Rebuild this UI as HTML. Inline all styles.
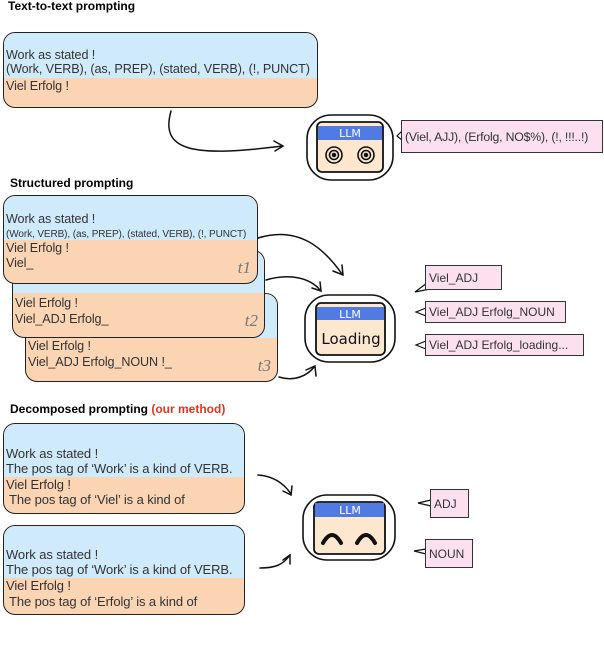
<!DOCTYPE html>
<html><head><meta charset="utf-8"><style>
body{margin:0;width:604px;height:650px;background:#fff;position:relative;overflow:hidden;font-family:"Liberation Sans",Arial,sans-serif;}
.t{position:absolute;font-weight:bold;font-size:12px;color:#000;white-space:nowrap}
.box{position:absolute;border:1.5px solid #222;border-radius:12px;overflow:hidden;background:#fbd4b4;}
.blue{position:absolute;left:0;right:0;top:0;background:#cfeafb;}
.l{position:absolute;left:2px;font-size:12.6px;color:#333;white-space:nowrap;letter-spacing:-0.1px}
.s{font-size:10px}
.d{font-size:13px}
.tl{position:absolute;font-family:"Liberation Serif",serif;font-style:italic;font-size:17px;color:#777}
.bub{position:absolute;background:#fce0ef;border:1.2px solid #333;font-size:12px;color:#333;white-space:nowrap;padding:0 3px;box-sizing:border-box;display:flex;align-items:center}
svg{position:absolute;left:0;top:0}
</style></head><body>
<div class="t" style="left:8px;top:-1px">Text-to-text prompting</div>
<div class="box" style="left:3px;top:32px;width:313px;height:74px"><div class="blue" style="height:45px"></div>
<div class="l" style="top:15px">Work as stated !</div>
<div class="l" style="top:29px">(Work, VERB), (as, PREP), (stated, VERB), (!, PUNCT)</div>
<div class="l" style="top:46px">Viel Erfolg !</div></div>

<div class="t" style="left:10px;top:176px">Structured prompting</div>
<div class="box" style="left:25px;top:293px;width:251px;height:87px"><div class="blue" style="height:44px"></div>
<div class="l" style="top:45px">Viel Erfolg !</div><div class="l" style="top:61px">Viel_ADJ Erfolg_NOUN !_</div><div class="tl" style="right:6px;top:62px">t3</div></div>
<div class="box" style="left:12px;top:250px;width:251px;height:86px"><div class="blue" style="height:42px"></div>
<div class="l" style="top:45px">Viel Erfolg !</div><div class="l" style="top:61px">Viel_ADJ Erfolg_</div><div class="tl" style="right:6px;top:60px">t2</div></div>
<div class="box" style="left:3px;top:195px;width:253px;height:87px"><div class="blue" style="height:44px"></div>
<div class="l" style="top:16px">Work as stated !</div>
<div class="l s" style="top:33px">(Work, VERB), (as, PREP), (stated, VERB), (!, PUNCT)</div>
<div class="l" style="top:45px">Viel Erfolg !</div><div class="l" style="top:60px">Viel_</div><div class="tl" style="right:6px;top:62px">t1</div></div>

<div class="t" style="left:10px;top:402px">Decomposed prompting <span style="color:#e8321e">(our method)</span></div>
<div class="box" style="left:3px;top:423px;width:240px;height:89px"><div class="blue" style="height:53px"></div>
<div class="l d" style="top:22px">Work as stated !</div><div class="l d" style="top:37px">The pos tag of ‘Work’ is a kind of VERB.</div>
<div class="l d" style="top:53px">Viel Erfolg !</div><div class="l d" style="top:68px;left:5px">The pos tag of ‘Viel’ is a kind of</div></div>
<div class="box" style="left:3px;top:525px;width:240px;height:88px"><div class="blue" style="height:52px"></div>
<div class="l d" style="top:21px">Work as stated !</div><div class="l d" style="top:36px">The pos tag of ‘Work’ is a kind of VERB.</div>
<div class="l d" style="top:52px">Viel Erfolg !</div><div class="l d" style="top:68px;left:5px">The pos tag of ‘Erfolg’ is a kind of</div></div>

<svg width="604" height="650" fill="none" stroke="#111" stroke-width="1.5" stroke-linecap="round">
<path d="M171 111 C160 150,190 158,282 146"/><path d="M274 141 L283 146 L275 151"/>
<path d="M258 238 C300 225,325 250,342 274"/><path d="M333 271 L343 275 L342 265"/>
<path d="M266 280 C290 273,310 278,320 290"/><path d="M312 288 L321 291 L320 282"/>
<path d="M279 377 C295 382,308 375,314 367"/><path d="M306 370 L315 366 L316 376"/>
<path d="M258 475 C272 476,283 482,291 494"/><path d="M283 491 L291 495 L292 486"/>
<path d="M260 568 C275 568,283 565,290 555"/><path d="M283 560 L290 555 L290 564"/>
<g>
<rect x="307" y="115" width="86" height="65" rx="24" stroke-width="1.6"/>
<rect x="317" y="122" width="66" height="50" rx="5" fill="#fde7cf" stroke-width="1.8"/>
<rect x="318" y="126" width="64" height="14" fill="#4f7be3" stroke="none"/>
<text x="350" y="137" fill="#fff" stroke="none" font-size="11" text-anchor="middle" font-family="DejaVu Sans">LLM</text>
<circle cx="334" cy="155" r="8" stroke-width="1.6"/><circle cx="334" cy="155" r="4.5" stroke-width="1.6"/><circle cx="334" cy="155" r="1.5" fill="#111"/>
<circle cx="366" cy="155" r="8" stroke-width="1.6"/><circle cx="366" cy="155" r="4.5" stroke-width="1.6"/><circle cx="366" cy="155" r="1.5" fill="#111"/>
</g>
<g>
<rect x="305" y="295" width="90" height="67" rx="24" stroke-width="1.6"/>
<rect x="316" y="303" width="69" height="52" rx="5" fill="#fde7cf" stroke-width="1.8"/>
<rect x="317" y="307" width="67" height="13" fill="#4f7be3" stroke="none"/>
<text x="350" y="318" fill="#fff" stroke="none" font-size="11" text-anchor="middle" font-family="DejaVu Sans">LLM</text>
<text x="351" y="344" fill="#111" stroke="none" font-size="15" text-anchor="middle" font-family="DejaVu Sans">Loading</text>
</g>
<g>
<rect x="303" y="495" width="92" height="65" rx="24" stroke-width="1.6"/>
<rect x="314" y="502" width="71" height="52" rx="5" fill="#fde7cf" stroke-width="1.8"/>
<rect x="315" y="503" width="69" height="14" fill="#4f7be3" stroke="none"/>
<text x="350" y="514" fill="#fff" stroke="none" font-size="11" text-anchor="middle" font-family="DejaVu Sans">LLM</text>
<path d="M323 543 Q332 527,341 543" stroke-width="4"/><path d="M357 543 Q366 527,375 543" stroke-width="4"/>
</g>
<path d="M402 131 L397 136 L402 140" stroke-width="1.2"/>
<path d="M427 283 L415 292 L430 289" stroke-width="1.2"/>
<path d="M426 308 L416 312 L426 316" stroke-width="1.2"/>
<path d="M426 341 L416 345 L426 349" stroke-width="1.2"/>
<path d="M431 500 L418 503 L431 506" stroke-width="1.2"/>
<path d="M426 549 L414 551 L426 554" stroke-width="1.2"/>
</svg>
<div class="bub" style="left:401px;top:120px;width:202px;height:33px;font-size:12.3px;letter-spacing:-0.2px">(Viel, AJJ), (Erfolg, NO$%), (!, !!!..!)</div>
<div class="bub" style="left:425px;top:265px;width:77px;height:25px">Viel_ADJ</div>
<div class="bub" style="left:425px;top:301px;width:141px;height:22px">Viel_ADJ Erfolg_NOUN</div>
<div class="bub" style="left:425px;top:334px;width:159px;height:22px">Viel_ADJ Erfolg_loading...</div>
<div class="bub" style="left:430px;top:489px;width:39px;height:29px">ADJ</div>
<div class="bub" style="left:425px;top:539px;width:48px;height:29px">NOUN</div>
</body></html>
